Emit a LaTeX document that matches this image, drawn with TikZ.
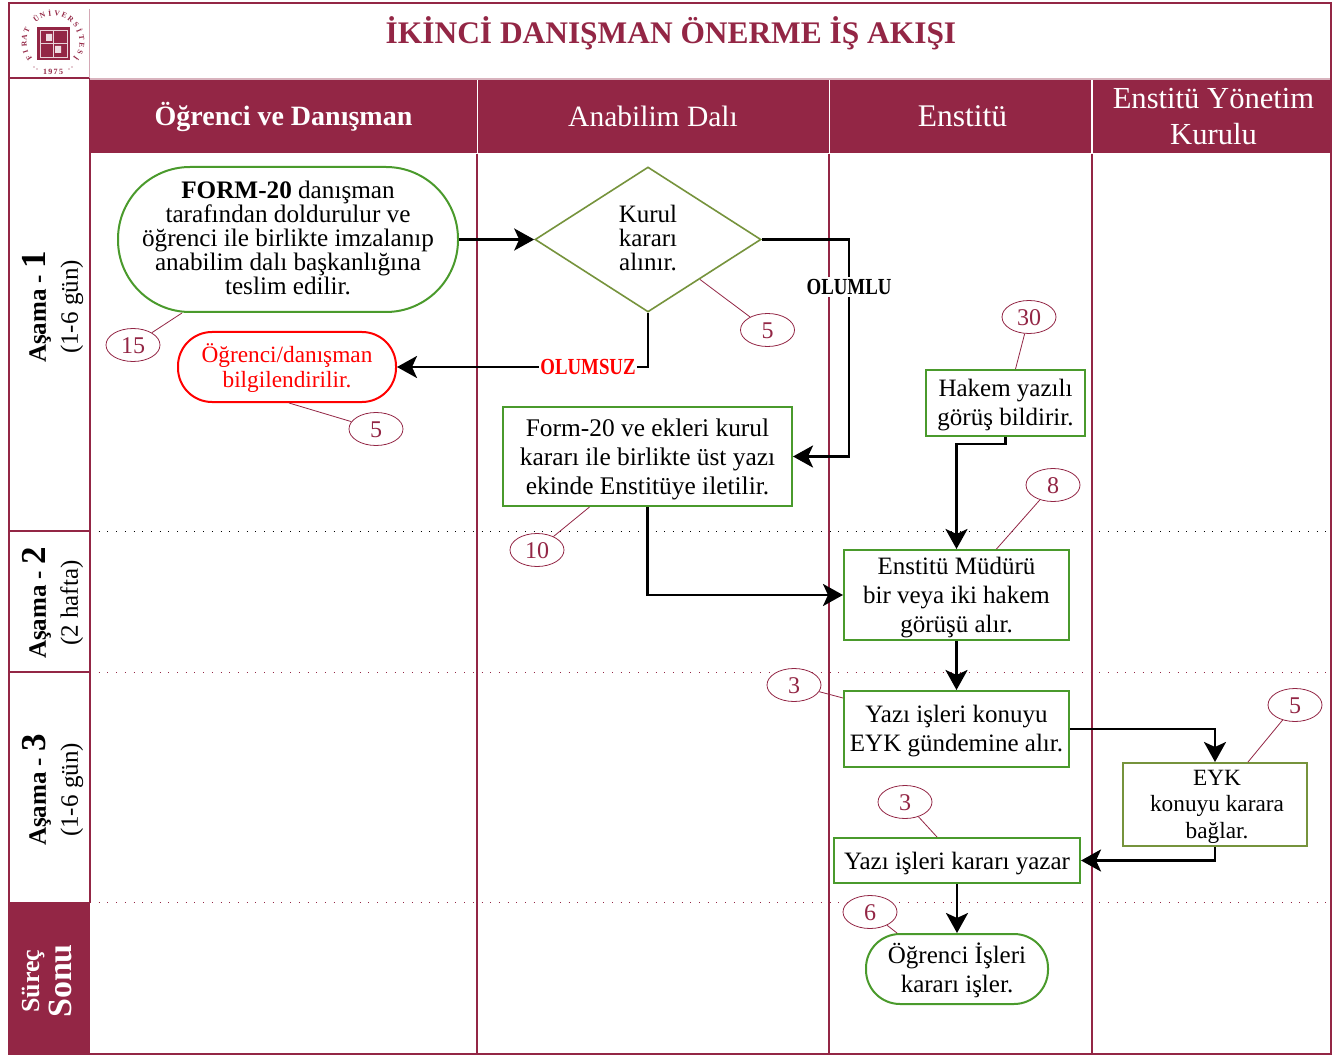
\documentclass[tikz,border=0pt]{standalone}
\usepackage{fontspec}
\setmainfont{Liberation Serif}
\newfontfamily\condfont[FakeStretch=0.82]{Liberation Serif}
\usetikzlibrary{arrows.meta,shapes.geometric}
\definecolor{maroon}{HTML}{932645}
\definecolor{boxgreen}{HTML}{4A9A2C}
\definecolor{boxolive}{HTML}{76933C}
\newcommand{\fsz}[2]{\fontsize{#1}{#2}\selectfont}
\newcommand{\nudge}[1]{\rule{0pt}{#1}}
\begin{document}
\begin{tikzpicture}[x=1pt,y=-1pt,
  lane/.style={maroon,line width=1.3pt},
  rowline/.style={maroon,line width=1pt,dash pattern=on 1pt off 7.7pt},
  head/.style={fill=maroon,draw=white,line width=1pt,text=white,minimum height=75pt,align=center,font=\fsz{29}{36}},
  rowlabel/.style={rotate=90,align=center,font=\fsz{25}{32}},
  lift/.style={execute at end node={\rule[-#1]{0pt}{#1}}},
  body/.style={align=center,text=black,inner sep=0pt,font=\fsz{25}{29}},
  gbox/.style={body,draw=boxgreen,line width=2pt,fill=white},
  pill/.style={gbox,rounded corners=#1},
  count/.style={ellipse,draw=maroon,fill=white,text=maroon,line width=0.8pt,minimum width=54pt,minimum height=33pt,inner sep=0pt,execute at begin node={\nudge{18pt}},font=\fsz{24}{28}},
  leader/.style={maroon,line width=0.8pt},
  flow/.style={black,line width=2.8pt,-{Stealth[length=20pt,width=22pt,inset=5pt]}},
  tag/.style={fill=white,inner xsep=1pt,inner ysep=2pt,font=\condfont\bfseries\fsz{23}{26}}]
\useasboundingbox (0,0) rectangle (1343,1056);
\fill[white] (0,0) rectangle (1343,1056);
\fill[maroon] (9,902) rectangle (90,1054);
\node[head,minimum width=387pt,font=\bfseries\fsz{28}{36}] (hstudent) at (283.5,116.5) {Öğrenci ve Danışman};
\node[head,minimum width=352pt,font=\fsz{29.5}{36}] (hdept) at (653,116.5) {Anabilim Dalı};
\node[head,minimum width=262pt,font=\fsz{31.5}{36}] (hinst) at (960.5,116.5) {\hspace*{4pt}Enstitü};
\node[head,minimum width=239pt,font=\fsz{30.6}{36}] (hboard) at (1211.5,116.5) {\hspace*{4pt}Enstitü Yönetim\\\hspace*{4pt}Kurulu};
\draw[rowline,black] (90,531) -- (1331,531);
\draw[rowline] (90,672) -- (1331,672);
\draw[rowline] (90,902) -- (1331,902);
\draw[lane] (477,154) -- (477,1054);
\draw[lane] (829,154) -- (829,1054);
\draw[lane] (1092,154) -- (1092,1054);
\draw[lane] (90,78) -- (90,902);
\draw[lane,line width=2pt] (9,78) -- (90,78);
\draw[maroon!35,line width=1.6pt] (90,79) -- (1331,79);
\draw[lane,line width=2pt] (9,531) -- (90,531);
\draw[lane,line width=2pt] (9,672) -- (90,672);
\draw[maroon!40,line width=0.8pt] (89,9) -- (89,78);
\draw[maroon,line width=2pt] (9,3) rectangle (1331,1054);
\node[text=maroon,font=\bfseries\fsz{31.4}{40}] (title) at (671,33) {İKİNCİ DANIŞMAN ÖNERME İŞ AKIŞI};
\coordinate (seal) at (53,42);
\foreach \ltr [count=\i, evaluate=\i as \ang using 214-14.7*(\i-1)] in {F,I,R,A,T,,Ü,N,İ,V,E,R,S,İ,T,E,S,İ}
  \node[text=maroon,inner sep=0pt,font=\bfseries\fsz{7.5}{8},rotate=\ang-90] at ([shift={(\ang:29pt)}]seal) {\ltr};
\node[text=maroon,inner sep=0pt,font=\bfseries\fsz{8}{9}] (year) at (53,72) {1\,9\,7\,5};
\foreach \px/\py in {34/67,37/69,69/69,72/67}
  \fill[maroon] (\px,\py) circle (0.7pt);
\fill[maroon] (37,27) rectangle (70,60);
\draw[white!80!maroon,line width=0.8pt] (40,30) rectangle (67,57);
\draw[white!80!maroon,line width=0.8pt] (53.5,30) -- (53.5,57) (40,43.5) -- (67,43.5);
\fill[white!85!maroon] (46,34) rectangle (52,41) (55,46) rectangle (61,53);
\node[rowlabel] (row1) at (53,307) {\textbf{Aşama - \fsz{35}{32}1}\\(1-6 gün)};
\node[rowlabel] (row2) at (53,603) {\textbf{Aşama - \fsz{35}{32}2}\\(2 hafta)};
\node[rowlabel] (row3) at (53,790) {\textbf{Aşama - \fsz{35}{32}3}\\(1-6 gün)};
\node[rowlabel,text=white,font=\bfseries\fsz{26}{32}] (row4) at (47,981) {Süreç\\\fsz{34}{34}Sonu};
\node[pill=72pt,minimum width=340pt,minimum height=145pt,lift=4pt,font=\fsz{25.2}{24}] (start) at (288,239.5) {\textbf{FORM-20} danışman\\tarafından doldurulur ve\\öğrenci ile birlikte imzalanıp\\anabilim dalı başkanlığına\\teslim edilir.};
\node[pill=34pt,draw=red,text=red,minimum width=218pt,minimum height=70pt,font=\fsz{23.3}{25}] (inform) at (287,367) {\nudge{22pt}Öğrenci/danışman\\bilgilendirilir.};
\node[diamond,body,draw=boxolive,line width=1.6pt,aspect=1.56,minimum width=226pt,minimum height=145pt,lift=4pt,font=\fsz{25}{24}] (decision) at (648,239.5) {Kurul\\kararı\\alınır.};
\node[gbox,minimum width=289pt,minimum height=99pt,font=\fsz{25.4}{29}] (form) at (647.5,456.5) {\nudge{23pt}Form-20 ve ekleri kurul\\kararı ile birlikte üst yazı\\ekinde Enstitüye iletilir.};
\node[gbox,minimum width=159pt,minimum height=66pt] (referee) at (1005.5,403) {\nudge{21pt}Hakem yazılı\\görüş bildirir.};
\node[gbox,minimum width=225pt,minimum height=90pt] (director) at (956.5,595) {\nudge{23pt}Enstitü Müdürü\\bir veya iki hakem\\görüşü alır.};
\node[gbox,minimum width=225pt,minimum height=76pt] (agenda) at (956.5,729) {\nudge{22pt}Yazı işleri konuyu\\EYK gündemine alır.};
\node[gbox,draw=boxolive,minimum width=184pt,minimum height=83pt,font=\fsz{23.3}{26.5}] (board) at (1215,804.5) {\nudge{20pt}\hspace*{4pt}EYK\\\hspace*{4pt}konuyu karara\\\hspace*{4pt}bağlar.};
\node[gbox,minimum width=246pt,minimum height=45pt] (write) at (957,860.5) {\nudge{23pt}Yazı işleri kararı yazar};
\node[pill=34pt,minimum width=182pt,minimum height=70pt,font=\fsz{25}{29.5}] (record) at (957,969) {\nudge{23pt}Öğrenci İşleri\\kararı işler.};
\node[count] (c15) at (133,345) {15};
\node[count] (c5a) at (767.5,330) {5};
\node[count] (c5b) at (376,429) {5};
\node[count] (c30) at (1029,317) {30};
\node[count] (c8) at (1053,485) {8};
\node[count] (c10) at (537,550) {10};
\node[count] (c3a) at (794,685) {3};
\node[count] (c5c) at (1295,705) {5};
\node[count] (c3b) at (905,802) {3};
\node[count] (c6) at (870,912) {6};
\draw[leader] (c15) -- ([xshift=-106pt]start.south);
\draw[leader] (c5a) -- ([xshift=52pt,yshift=-40pt]decision.center);
\draw[leader] (c5b) -- ([xshift=2pt]inform.south);
\draw[leader] (c30) -- ([xshift=10pt]referee.north);
\draw[leader] (c8) -- ([xshift=40pt]director.north);
\draw[leader] (c10) -- ([xshift=-58pt]form.south);
\draw[leader] (c3a) -- ([yshift=31pt]agenda.west);
\draw[leader] (c5c) -- ([xshift=33pt]board.north);
\draw[leader] (c3b) -- ([xshift=-20pt]write.north);
\draw[leader] (c6) -- ([xshift=-60pt]record.north);
\coordinate (yes) at (849,287);
\coordinate (no) at (588,367);
\draw[flow] (start.east) -- (decision.west);
\draw[flow] (decision.east) -| (yes) |- (form.east);
\draw[flow] (decision.south) |- (inform.east);
\draw[flow] (referee.south) -- ++(0,7) -| (director.north);
\draw[flow] (form.south) |- (director.west);
\draw[flow] (director.south) -- (agenda.north);
\draw[flow] (agenda.east) -| (board.north);
\draw[flow] (board.south) |- (write.east);
\draw[flow] (write.south) -- (record.north);
\node[tag] (yeslabel) at (yes) {OLUMLU};
\node[tag,text=red] (nolabel) at (no) {OLUMSUZ};
\end{tikzpicture}
\end{document}
